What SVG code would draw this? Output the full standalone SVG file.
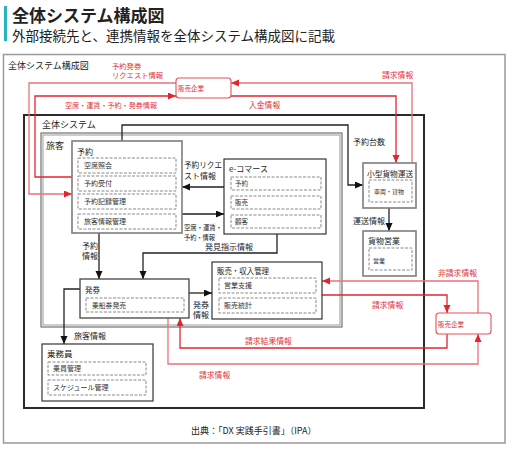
<svg xmlns="http://www.w3.org/2000/svg" width="509" height="449" viewBox="0 0 509 449">
<style>
text{font-family:"Noto Sans CJK JP","Noto Sans",sans-serif;fill:#222}
.t{font-size:8px}
.s{font-size:7px;fill:#333}
.r{font-size:7.8px;fill:#e0313a}
.rs{font-size:7.3px;fill:#e0313a}
.gbox{fill:#fff;stroke:#7d7d7d;stroke-width:1.6}
.kbox{fill:#fff;stroke:#222;stroke-width:1.1}
.sub{fill:none;stroke:#8a8a8a;stroke-width:1;stroke-dasharray:3 1.5}
.c{fill:none;stroke:#222;stroke-width:1.3}
.red{fill:none;stroke:#e3262e;stroke-width:1.3}
.pink{fill:none;stroke:#e8727c;stroke-width:1.3}
.co{fill:#fff;stroke:#e3505a;stroke-width:1.1}
</style>
<defs>
<marker id="ak" markerUnits="userSpaceOnUse" markerWidth="9" markerHeight="8" refX="8" refY="3.5" orient="auto"><path d="M0,0 L8,3.5 L0,7 z" fill="#111"/></marker>
<marker id="ar" markerUnits="userSpaceOnUse" markerWidth="9" markerHeight="8" refX="8" refY="3.5" orient="auto"><path d="M0,0 L8,3.5 L0,7 z" fill="#e3262e"/></marker>
</defs>
<rect width="509" height="449" fill="#fff"/>
<g id="header">
<rect x="4" y="6" width="3" height="35" fill="#2ab3c2"/>
<text x="12" y="22" style="font-size:17px;font-weight:bold">全体システム構成図</text>
<text x="12" y="41" style="font-size:13.5px">外部接続先と、連携情報を全体システム構成図に記載</text>
</g>
<g id="frame">
<rect x="3.5" y="54.5" width="501.5" height="388.5" fill="none" stroke="#9a9a9a" stroke-width="1.5"/>
<text x="8" y="68.5" style="font-size:9px">全体システム構成図</text>
</g>
<g id="zentai">
<rect x="24" y="115" width="400" height="293" fill="none" stroke="#2a2a2a" stroke-width="2"/>
<text x="42" y="127.5" style="font-size:9px">全体システム</text>
</g>
<g id="ryokaku">
<rect x="41" y="133" width="301" height="194" fill="none" stroke="#555" stroke-width="1"/>
<rect x="43" y="135" width="297" height="190" fill="none" stroke="#9a9a9a" stroke-width="1"/>
<text x="46" y="149" style="font-size:9px">旅客</text>
</g>
<g id="connectors">
<path class="c" d="M122,141 V125 H348 V185 H363" marker-end="url(#ak)"/>
<path class="c" d="M224,187 H182" marker-end="url(#ak)"/>
<path class="c" d="M182,214 H224" marker-end="url(#ak)"/>
<path class="c" d="M99,233 V279" marker-end="url(#ak)"/>
<path class="c" d="M277,234 V253 H143 V279" marker-end="url(#ak)"/>
<path class="c" d="M189,293 H212" marker-end="url(#ak)"/>
<path class="c" d="M80,289 H64 V344" marker-end="url(#ak)"/>
<path class="c" d="M389,208 V231" marker-end="url(#ak)"/>
<path class="pink" d="M176,83 H29 V194 H72" marker-end="url(#ar)"/>
<path class="red" d="M72,177 H35 V96 H176" marker-end="url(#ar)"/>
<path class="pink" d="M412,163 V83 H231" marker-end="url(#ar)"/>
<path class="red" d="M231,96 H396 V163" marker-end="url(#ar)"/>
<path class="pink" d="M478,313 V281 H322" marker-end="url(#ar)"/>
<path class="red" d="M322,295 H447 V313" marker-end="url(#ar)"/>
<path class="red" d="M447,334 V348 H180 V318" marker-end="url(#ar)"/>
<path class="pink" d="M168,318 V364 H478 V334" marker-end="url(#ar)"/>
<text class="rs" x="112" y="68.5">予約発券</text>
<text class="rs" x="112" y="78">リクエスト情報</text>
<text class="rs" x="65" y="108" textLength="92" lengthAdjust="spacingAndGlyphs">空席・運賃・予約・発券情報</text>
<text class="r" x="382" y="78">請求情報</text>
<text class="r" x="249" y="108">入金情報</text>
<text class="t" x="353" y="144.5">予約台数</text>
<text class="t" x="184" y="168" textLength="38" lengthAdjust="spacingAndGlyphs">予約リクエ</text>
<text class="t" x="184" y="178.5">スト情報</text>
<text class="t" x="184" y="229.5" style="font-size:7.2px" textLength="38" lengthAdjust="spacingAndGlyphs">空席・運賃・</text>
<text class="t" x="184" y="239.5" style="font-size:7.2px" textLength="31" lengthAdjust="spacingAndGlyphs">予約・情報</text>
<text class="t" x="82" y="248.5">予約</text>
<text class="t" x="82" y="259">情報</text>
<text class="t" x="205" y="250">発見指示情報</text>
<text class="t" x="353" y="223.5">運送情報</text>
<text class="t" x="193" y="307.5">発券</text>
<text class="t" x="193" y="317.5">情報</text>
<text class="t" x="74" y="339">旅客情報</text>
<text class="r" x="438" y="275.5">非請求情報</text>
<text class="r" x="372" y="308">請求情報</text>
<text class="r" x="245" y="343.5">請求結果情報</text>
<text class="r" x="199" y="378">請求情報</text>
</g>
<g id="hanbai-top">
<rect class="co" x="176" y="78" width="55" height="20" rx="3"/>
<text x="178" y="90.5" style="font-size:6.5px;fill:#e0313a">販売企業</text>
</g>
<g id="hanbai-right">
<rect class="co" x="436" y="313" width="55" height="21" rx="3"/>
<text x="438" y="326.5" style="font-size:6.5px;fill:#e0313a">販売企業</text>
</g>
<g id="yoyaku">
<rect class="gbox" x="72" y="141" width="110" height="92"/>
<text class="t" x="77" y="155">予約</text>
<rect class="sub" x="78" y="158" width="98" height="15"/>
<text class="s" x="84" y="168">空席照会</text>
<rect class="sub" x="78" y="176" width="98" height="15"/>
<text class="s" x="84" y="186">予約受付</text>
<rect class="sub" x="78" y="194" width="98" height="15"/>
<text class="s" x="84" y="204">予約記録管理</text>
<rect class="sub" x="78" y="214" width="98" height="15"/>
<text class="s" x="84" y="224">旅客情報管理</text>
</g>
<g id="ecommerce">
<rect class="kbox" x="224" y="159" width="102" height="75"/>
<text class="t" x="229" y="172">e-コマース</text>
<rect class="sub" x="231" y="177" width="90" height="13"/>
<text class="s" x="235" y="186" style="font-size:6.5px">予約</text>
<rect class="sub" x="231" y="196" width="90" height="13"/>
<text class="s" x="235" y="205" style="font-size:6.5px">販売</text>
<rect class="sub" x="231" y="215" width="90" height="13"/>
<text class="s" x="235" y="224" style="font-size:6.5px">顧客</text>
</g>
<g id="kogata">
<rect class="gbox" x="363" y="163" width="53" height="45"/>
<text class="t" x="367" y="176.5" style="font-size:7.7px">小型貨物運送</text>
<rect class="sub" x="369" y="180" width="43" height="22"/>
<text class="s" x="374" y="193.5" style="font-size:6px" textLength="30" lengthAdjust="spacingAndGlyphs">車両・貨物</text>
</g>
<g id="kamotsu">
<rect class="gbox" x="363" y="231" width="53" height="45"/>
<text class="t" x="368" y="243.5">貨物営業</text>
<rect class="sub" x="369" y="248" width="43" height="22"/>
<text class="s" x="373" y="262.5" style="font-size:6px">営業</text>
</g>
<g id="hakken">
<rect class="kbox" x="80" y="279" width="109" height="39" style="stroke:#444;stroke-width:1.3"/>
<text class="t" x="85" y="293" style="font-size:7.5px">発券</text>
<rect class="sub" x="86" y="298" width="98" height="14"/>
<text class="s" x="92" y="307.5" style="font-size:6.8px">乗船券発売</text>
</g>
<g id="shunyu">
<rect class="kbox" x="212" y="262" width="110" height="57"/>
<text class="t" x="217" y="274" style="font-size:7.5px" textLength="52" lengthAdjust="spacingAndGlyphs">販売・収入管理</text>
<rect class="sub" x="219" y="278" width="97" height="15"/>
<text class="s" x="224" y="288">営業支援</text>
<rect class="sub" x="219" y="298" width="97" height="15"/>
<text class="s" x="224" y="308">販売統計</text>
</g>
<g id="jomuin">
<rect class="kbox" x="42" y="344" width="111" height="57" style="stroke:#444;stroke-width:1.3"/>
<text class="t" x="47" y="357" style="font-size:8.5px">乗務員</text>
<rect class="sub" x="48" y="362" width="98" height="13"/>
<text class="s" x="53" y="371">乗員管理</text>
<rect class="sub" x="48" y="380" width="98" height="15"/>
<text class="s" x="53" y="390">スケジュール管理</text>
</g>
<g id="footer">
<text x="191" y="434" style="font-size:9px">出典：「DX 実践手引書」（IPA）</text>
</g>
</svg>
